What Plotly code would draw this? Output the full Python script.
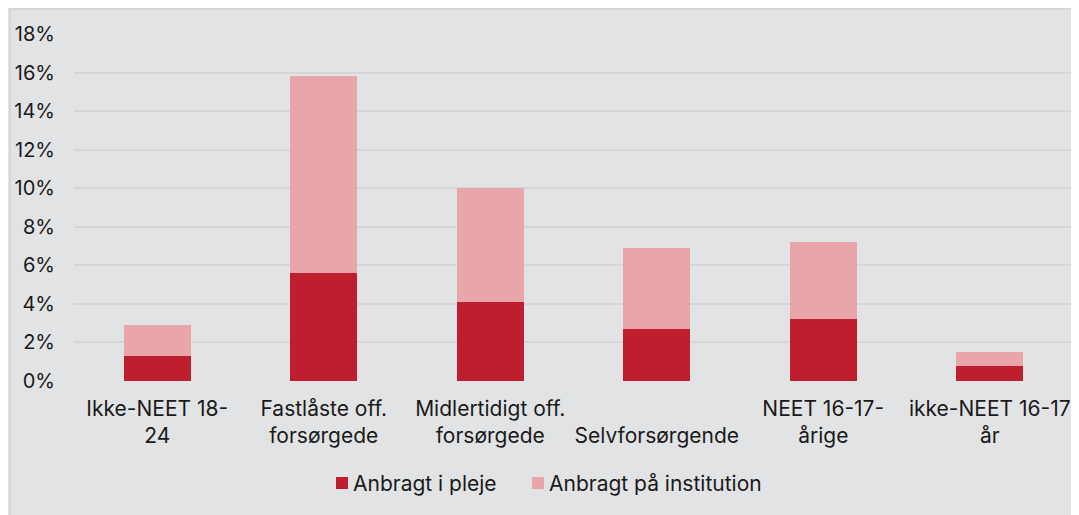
import plotly.graph_objects as go

categories = ["Ikke-NEET 18-<br>24", "Fastlåste off.<br>forsørgede", "Midlertidigt off.<br>forsørgede",
              " <br>Selvforsørgende", "NEET 16-17-<br>årige", "ikke-NEET 16-17<br>år"]
pleje = [1.3, 5.6, 4.1, 2.7, 3.2, 0.8]
institution = [1.6, 10.2, 5.9, 4.2, 4.0, 0.7]
series_names = ["Anbragt i pleje", "Anbragt på institution"]
tick_vals = [0, 2, 4, 6, 8, 10, 12, 14, 16, 18]
tick_text = [f"{v}%" for v in tick_vals]

RED = "#be1e2d"
PINK = "#e8a6ab"
BG = "#e2e3e5"
GRID = "#d5d6d8"
FONT = "Inter, Roboto, sans-serif"
TXT = "#1a1a1a"

W, H = 1071, 507
L, R, T, B = 66, 6, 26, 134
pw, ph = W - L - R, H - T - B

fig = go.Figure()
fig.add_trace(go.Bar(x=categories, y=pleje, name=series_names[0], showlegend=False,
                     marker=dict(color=RED, line=dict(width=0))))
fig.add_trace(go.Bar(x=categories, y=institution, name=series_names[1], showlegend=False,
                     marker=dict(color=PINK, line=dict(width=0))))

def px_to_paper_x(px):
    return (px - L) / pw

def py_to_paper_y(py):
    return (H - B - py) / ph

# manual legend (swatch left px, text left px)
legend_items = [(series_names[0], RED, 328, 345), (series_names[1], PINK, 524, 541)]
legend_cy = 475
shapes = [
    dict(type="line", xref="paper", yref="paper",
         x0=px_to_paper_x(2), x1=px_to_paper_x(2), y0=py_to_paper_y(1), y1=py_to_paper_y(520),
         line=dict(color=GRID, width=2)),
    dict(type="line", xref="paper", yref="paper",
         x0=px_to_paper_x(1), x1=px_to_paper_x(1085), y0=py_to_paper_y(1), y1=py_to_paper_y(1),
         line=dict(color=GRID, width=2)),
]
annotations = []
for name, col, sx, tx in legend_items:
    shapes.append(dict(type="rect", xref="paper", yref="paper",
                       x0=px_to_paper_x(sx), x1=px_to_paper_x(sx + 12),
                       y0=py_to_paper_y(legend_cy - 6), y1=py_to_paper_y(legend_cy + 6),
                       fillcolor=col, line=dict(width=0)))
    annotations.append(dict(text=name, xref="paper", yref="paper", x=px_to_paper_x(tx - 2),
                            y=py_to_paper_y(legend_cy), xanchor="left", yanchor="middle",
                            showarrow=False, font=dict(family=FONT, size=21, color=TXT)))

fig.update_layout(
    barmode="stack",
    bargap=0.6,
    width=W, height=H,
    margin=dict(l=L, r=R, t=T, b=B, autoexpand=False),
    paper_bgcolor=BG,
    plot_bgcolor=BG,
    font=dict(family=FONT, size=20, color=TXT),
    showlegend=False,
    xaxis=dict(showgrid=False, showline=False, zeroline=False, ticks="",
               tickfont=dict(family=FONT, size=21, color=TXT), ticklabelstandoff=13),
    yaxis=dict(range=[0, 18], tickvals=tick_vals, ticktext=tick_text, showgrid=True,
               gridcolor=GRID, gridwidth=1.5, zeroline=False, showline=False, ticks="",
               tickfont=dict(family=FONT, size=20, color=TXT), ticklabelstandoff=18),
    shapes=shapes,
    annotations=annotations,
)

fig.write_html("out.html")
